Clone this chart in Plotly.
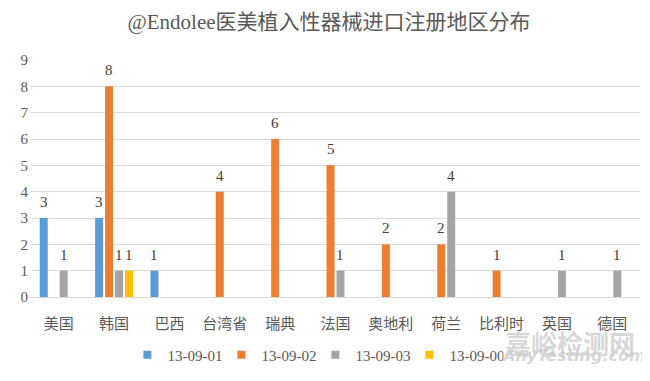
import plotly.graph_objects as go

categories = ["美国", "韩国", "巴西", "台湾省", "瑞典", "法国", "奥地利", "荷兰", "比利时", "英国", "德国"]
series_names = ["13-09-01", "13-09-02", "13-09-03", "13-09-00"]
s_01 = [3, 3, 1, 0, 0, 0, 0, 0, 0, 0, 0]
s_02 = [0, 8, 0, 4, 6, 5, 2, 2, 1, 0, 0]
s_03 = [1, 1, 0, 0, 0, 1, 0, 4, 0, 1, 1]
s_00 = [0, 1, 0, 0, 0, 0, 0, 0, 0, 0, 0]
colors = ["#5B9BD5", "#ED7D31", "#A5A5A5", "#FFC000"]
y_ticks = list(range(0, 10))

FONT = "Liberation Serif, Times New Roman, Noto Sans CJK SC, serif"
BARGAP = 0.28
GROUPGAP = 0.2

xs = list(range(len(categories)))
all_series = [s_01, s_02, s_03, s_00]
n = len(all_series)
slot = (1 - BARGAP) / n

fig = go.Figure()
for k, (name, vals, col) in enumerate(zip(series_names, all_series, colors)):
    fig.add_trace(go.Bar(x=xs, y=vals, name=name, marker_color=col, marker_line_width=0,
                         showlegend=False, legendgroup=name))
    off = -(1 - BARGAP) / 2 + (k + 0.5) * slot
    for i, v in enumerate(vals):
        if v:
            fig.add_annotation(x=i + off, y=v, xref="x", yref="y", text=str(v),
                               showarrow=False, yanchor="bottom", yshift=6,
                               font=dict(family=FONT, size=15, color="#404040"))

# legend entries (small square swatches)
for name, col in zip(series_names, colors):
    fig.add_trace(go.Scatter(x=[None], y=[None], mode="markers", name=name, legendgroup=name,
                             marker=dict(symbol="square", size=8, color=col)))

fig.update_layout(
    width=642, height=373,
    margin=dict(l=23, r=10, t=52, b=79),
    paper_bgcolor="white", plot_bgcolor="white",
    title=dict(text="@Endolee医美植入性器械进口注册地区分布", x=0.5, xanchor="center",
               y=1 - 14 / 373, yanchor="middle",
               font=dict(family=FONT, size=21, color="#595959")),
    barmode="group", bargap=BARGAP, bargroupgap=GROUPGAP,
    showlegend=True,
    legend=dict(orientation="h", x=0.467, xanchor="center", y=-0.245, yanchor="middle",
                font=dict(family=FONT, size=15, color="#595959"),
                itemwidth=30, entrywidth=49, traceorder="normal"),
    font=dict(family=FONT),
)
fig.update_xaxes(range=[-0.5, len(categories) - 0.5], tickvals=xs, ticktext=categories,
                 showline=True, linecolor="#D9D9D9", ticks="", showgrid=False, zeroline=False,
                 ticklabelstandoff=13,
                 tickfont=dict(family=FONT, size=15, color="#595959"))
fig.update_yaxes(range=[0, 9], tickvals=y_ticks, showgrid=True, gridcolor="#D9D9D9",
                 zeroline=False, ticks="", ticklabelstandoff=2,
                 tickfont=dict(family=FONT, size=15, color="#595959"))

fig.add_annotation(text="<b>嘉峪检测网</b>", xref="paper", yref="paper", x=0.995, y=-0.19,
                   xanchor="right", yanchor="middle", showarrow=False,
                   font=dict(family="Noto Sans CJK SC", size=26, color="rgba(205,205,205,0.8)"))
fig.add_annotation(text="<b><i>AnyTesting.com</i></b>", xref="paper", yref="paper", x=1.013, y=-0.245,
                   xanchor="right", yanchor="middle", showarrow=False,
                   font=dict(family="DejaVu Sans", size=16, color="rgba(205,205,205,0.8)"))

fig.write_html("out.html")
